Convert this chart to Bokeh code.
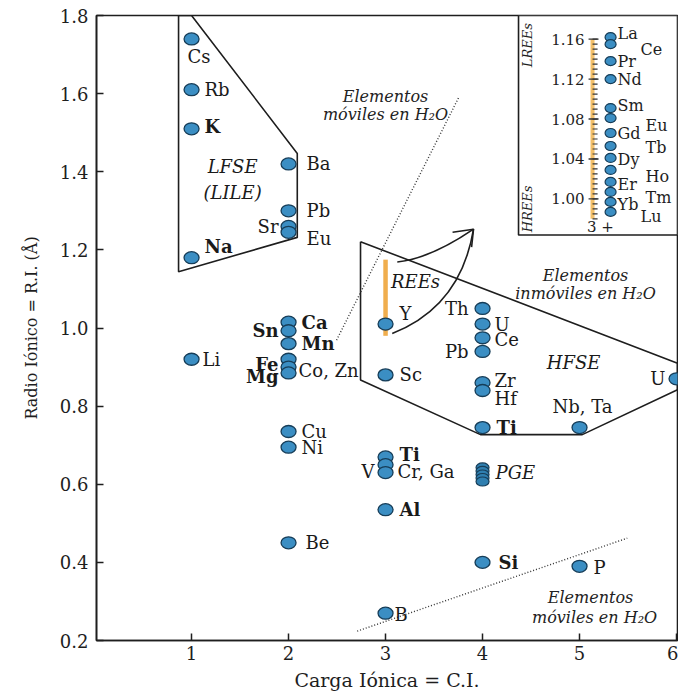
import numpy as np
from bokeh.plotting import figure
from bokeh.models import Range1d, FixedTicker, ColumnDataSource
from bokeh.core.properties import value, field
from bokeh.embed import file_html
from bokeh.resources import INLINE

# ------------------------------------------------------------------ data
elem_names = ["Cs", "Rb", "K", "Na", "Li",
              "Ba", "Pb", "Sr", "Eu", "Ca", "Sn", "Mn", "Fe", "Co, Zn", "Mg",
              "Cu", "Ni", "Be",
              "Y", "Sc", "Ti", "V", "Cr, Ga", "Al", "B",
              "Th", "U", "Ce", "Pb", "Zr", "Hf", "Ti", "Si",
              "Nb, Ta", "P", "U"]
elem_charge = [1, 1, 1, 1, 1,
               2, 2, 2, 2, 2, 2, 2, 2, 2, 2,
               2, 2, 2,
               3, 3, 3, 3, 3, 3, 3,
               4, 4, 4, 4, 4, 4, 4, 4,
               5, 5, 6]
elem_radius = [1.74, 1.61, 1.51, 1.18, 0.92,
               1.42, 1.30, 1.26, 1.245, 1.015, 0.993, 0.96, 0.92, 0.90, 0.885,
               0.735, 0.695, 0.45,
               1.01, 0.88, 0.67, 0.65, 0.63, 0.535, 0.27,
               1.05, 1.01, 0.975, 0.94, 0.86, 0.84, 0.745, 0.40,
               0.745, 0.39, 0.87]
elem_bold = [False, False, True, True, False,
             False, False, False, False, True, True, True, True, False, True,
             False, False, False,
             False, False, True, False, False, True, False,
             False, False, False, False, False, False, True, True,
             False, False, False]

pge_charge = [4, 4, 4, 4, 4]
pge_radius = [0.643, 0.634, 0.625, 0.616, 0.607]

ree_names = ["La", "Ce", "Pr", "Nd", "Sm", "Eu", "Gd", "Tb", "Dy", "Ho",
             "Er", "Tm", "Yb", "Lu"]
ree_radius = [1.162, 1.155, 1.138, 1.120, 1.091, 1.081, 1.066, 1.053, 1.041,
              1.029, 1.017, 1.007, 0.997, 0.987]
ree_bar_charge = 3
ree_bar_range = [0.98, 1.175]
inset_bar_range = [0.98, 1.16]

inset_ticks = [1.00, 1.04, 1.08, 1.12, 1.16]
inset_tick_labels = ["1.00", "1.04", "1.08", "1.12", "1.16"]
x_ticks = [1, 2, 3, 4, 5, 6]
x_tick_labels = ["1", "2", "3", "4", "5", "6"]
y_ticks = [0.2, 0.4, 0.6, 0.8, 1.0, 1.2, 1.4, 1.6, 1.8]
y_tick_labels = ["0.2", "0.4", "0.6", "0.8", "1.0", "1.2", "1.4", "1.6", "1.8"]

# ------------------------------------------------------------------ styles / label placement
FONT = "DejaVu Serif"
DOT_FILL = "#3b8ec3"
DOT_LINE = "#163d58"
ORANGE = "#f0ae4e"
INK = "#1e1e1e"

elem_dx = [-4, 13, 13, 13, 11,
           18, 18, -10, 18, 13, -10, 13, -10, 10, -10,
           13, 13, 17,
           14, 14, 14, -11, 12, 14, 9,
           -14, 12, 12, -14, 12, 12, 14, 16,
           3, 14, -11]
elem_dy = [18, 0, -2, -11, 0,
           0, 0, 0, 6, 0, 0, 0, 5, 3, 4,
           0, 0, 0,
           -11, 0, -2, 7, -1, 0, 1,
           0, 0, 2, 0, -2, 8, 0, 0,
           -21, 1, 0]
elem_align = ["left", "left", "left", "left", "left",
              "left", "left", "right", "left", "left", "right", "left", "right", "left", "right",
              "left", "left", "left",
              "left", "left", "left", "right", "left", "left", "left",
              "right", "left", "left", "right", "left", "left", "left", "left",
              "center", "left", "right"]

ree_dx = [7, 30, 7, 7, 7, 35, 7, 35, 7, 35, 7, 35, 7, 30]
ree_dy = [-4, 5, 0, 0, -3, 7, 0, 2, 2, 7, 3, 6, 3, 5]

# ------------------------------------------------------------------ figure
p = figure(width=678, height=693,
           x_range=Range1d(0.02, 6.01), y_range=Range1d(0.2, 1.8),
           output_backend="svg", toolbar_location=None,
           min_border_left=96, min_border_right=1,
           min_border_top=15, min_border_bottom=52)
p.extra_y_ranges = {"ree": Range1d(0.5577, 1.1837)}
p.xgrid.visible = False
p.ygrid.visible = False
p.background_fill_color = "white"
p.border_fill_color = "white"
p.outline_line_color = INK
p.outline_line_width = 1.6
p.outline_line_alpha = 1.0

for ax in (p.xaxis[0], p.yaxis[0]):
    ax.axis_line_width = 1.6
    ax.axis_line_color = INK
    ax.major_tick_in = 7
    ax.major_tick_out = 0
    ax.major_tick_line_width = 1.5
    ax.major_tick_line_color = INK
    ax.minor_tick_line_color = None
    ax.major_label_text_font = FONT
    ax.major_label_text_font_size = "18px"
    ax.major_label_text_color = INK
    ax.axis_label_text_font = FONT
    ax.axis_label_text_font_style = "normal"
    ax.axis_label_text_color = INK

p.xaxis.ticker = FixedTicker(ticks=x_ticks)
p.xaxis.major_label_overrides = {t: l for t, l in zip(x_ticks, x_tick_labels)}
p.yaxis.ticker = FixedTicker(ticks=y_ticks)
p.yaxis.major_label_overrides = {t: l for t, l in zip(y_ticks, y_tick_labels)}
p.xaxis.axis_label = "Carga Iónica = C.I."
p.yaxis.axis_label = "Radio Iónico = R.I. (Å)"
p.xaxis.axis_label_text_font_size = "19px"
p.yaxis.axis_label_text_font_size = "16px"
p.xaxis.major_label_standoff = 5
p.xaxis.axis_label_standoff = 6
p.yaxis.major_label_standoff = 8
p.yaxis.axis_label_standoff = 16

# ------------------------------------------------------------------ region outlines
lfse_x = [0.866, 1.0, 2.090, 2.090, 0.866, 0.866]
lfse_y = [1.8, 1.8, 1.447, 1.232, 1.144, 1.8]
p.line(lfse_x, lfse_y, line_color=INK, line_width=1.6)

hfse_x = [2.742, 6.01, 6.01, 5.028, 3.979, 2.742, 2.742]
hfse_y = [1.221, 0.910, 0.842, 0.727, 0.727, 0.867, 1.221]
p.line(hfse_x, hfse_y, line_color=INK, line_width=1.6)

# dotted separators
p.line([2.495, 3.756], [0.969, 1.591], line_color="#333333", line_width=1.4, line_dash="1 2")
p.line([2.708, 5.492], [0.224, 0.462], line_color="#333333", line_width=1.4, line_dash="1 2")

# REE range bar on the main diagram
p.segment(x0=[ree_bar_charge], y0=[ree_bar_range[0]], x1=[ree_bar_charge], y1=[ree_bar_range[1]],
          line_color=ORANGE, line_width=4.5)

# curved arrows towards the inset
p.quadratic(x0=[3.121, 3.069], y0=[1.169, 0.986], x1=[3.907, 3.907], y1=[1.253, 1.253],
            cx=[3.464, 3.773], cy=[1.178, 1.054], line_color=INK, line_width=1.6)
p.multi_line(xs=[[3.691, 3.907, 3.887]], ys=[[1.245, 1.253, 1.207]],
             line_color=INK, line_width=1.6)

# ------------------------------------------------------------------ inset (REE detail)
p.quad(left=[4.371], right=[6.01], bottom=[1.238], top=[1.8],
       fill_color="white", line_color=INK, line_width=1.6)
INSET_BAR_X = 5.134
INSET_DOT_X = 5.320
p.segment(x0=[INSET_BAR_X], y0=[inset_bar_range[0]], x1=[INSET_BAR_X], y1=[inset_bar_range[1]],
          line_color="#f3c06a", line_width=4, y_range_name="ree")
minor = np.round(np.arange(inset_bar_range[0], inset_bar_range[1] + 1e-9, 0.005), 3)
p.segment(x0=[5.134] * len(minor), y0=minor, x1=[5.186] * len(minor), y1=minor,
          line_color="#333333", line_width=1.2, y_range_name="ree")
p.segment(x0=[5.093] * len(inset_ticks), y0=inset_ticks, x1=[5.196] * len(inset_ticks), y1=inset_ticks,
          line_color="#333333", line_width=1.4, y_range_name="ree")
p.text(x=[5.052] * len(inset_ticks), y=inset_ticks, text=inset_tick_labels,
       text_align="right", text_baseline="middle", text_font=value(FONT),
       text_font_size="15px", text_color=INK, y_range_name="ree")
p.text(x=[5.216], y=[0.972], text=["3 +"], text_align="center", text_baseline="middle",
       text_font=value(FONT), text_font_size="15px", text_color=INK, y_range_name="ree")
p.text(x=[4.464, 4.464], y=[1.154, 0.99], text=["LREEs", "HREEs"], angle=np.pi / 2,
       text_align="center", text_baseline="middle", text_font=value(FONT),
       text_font_style="italic", text_font_size="13px", text_color=INK, y_range_name="ree")

ree_src = ColumnDataSource(dict(x=[INSET_DOT_X] * len(ree_names), y=ree_radius, name=ree_names,
                                dx=ree_dx, dy=ree_dy))
p.ellipse(x="x", y="y", width=11, height=9, width_units="screen", height_units="screen",
          fill_color=DOT_FILL, line_color=DOT_LINE, line_width=1.2, source=ree_src, y_range_name="ree")
p.text(x="x", y="y", text="name", x_offset="dx", y_offset="dy", source=ree_src,
       text_align="left", text_baseline="middle", text_font=value(FONT),
       text_font_size="16px", text_color=INK, y_range_name="ree")

# ------------------------------------------------------------------ main points
src = ColumnDataSource(dict(x=elem_charge, y=elem_radius, name=elem_names,
                            dx=elem_dx, dy=elem_dy, align=elem_align, bold=elem_bold))
p.ellipse(x="x", y="y", width=15, height=12, width_units="screen", height_units="screen",
          fill_color=DOT_FILL, line_color=DOT_LINE, line_width=1.3, source=src)
p.ellipse(x=pge_charge, y=pge_radius, width=13, height=9, width_units="screen", height_units="screen",
          fill_color="#2f7fb0", line_color=DOT_LINE, line_width=1.2)

normal_idx = [i for i, b in enumerate(elem_bold) if not b]
bold_idx = [i for i, b in enumerate(elem_bold) if b]
for idx, style in ((normal_idx, "normal"), (bold_idx, "bold")):
    sub = ColumnDataSource({k: [v[i] for i in idx] for k, v in src.data.items()})
    p.text(x="x", y="y", text="name", x_offset="dx", y_offset="dy", source=sub,
           text_align=field("align"), text_baseline="middle", text_font=value(FONT),
           text_font_style=style, text_font_size="18px", text_color="#1a1a1a")

# ------------------------------------------------------------------ group names
p.text(x=[1.423, 1.423, 3.309, 4.938], y=[1.414, 1.348, 1.118, 0.911],
       text=["LFSE", "(LILE)", "REEs", "HFSE"], text_align="center", text_baseline="middle",
       text_font=value(FONT), text_font_style="italic", text_font_size="18px", text_color="#1a1a1a")
p.text(x=[4.134], y=[0.629], text=["PGE"], text_align="left", text_baseline="middle",
       text_font=value(FONT), text_font_style="italic", text_font_size="18px", text_color="#1a1a1a")
p.text(x=[3.0, 3.0, 5.062, 5.062, 5.113, 5.155],
       y=[1.593, 1.547, 1.135, 1.089, 0.310, 0.259],
       text=["Elementos", "móviles en H₂O", "Elementos", "inmóviles en H₂O",
             "Elementos", "móviles en H₂O"],
       text_align="center", text_baseline="middle", text_font=value(FONT),
       text_font_style="italic", text_font_size="16px", text_color="#222222")

open("out.html", "w").write(file_html(p, INLINE))
